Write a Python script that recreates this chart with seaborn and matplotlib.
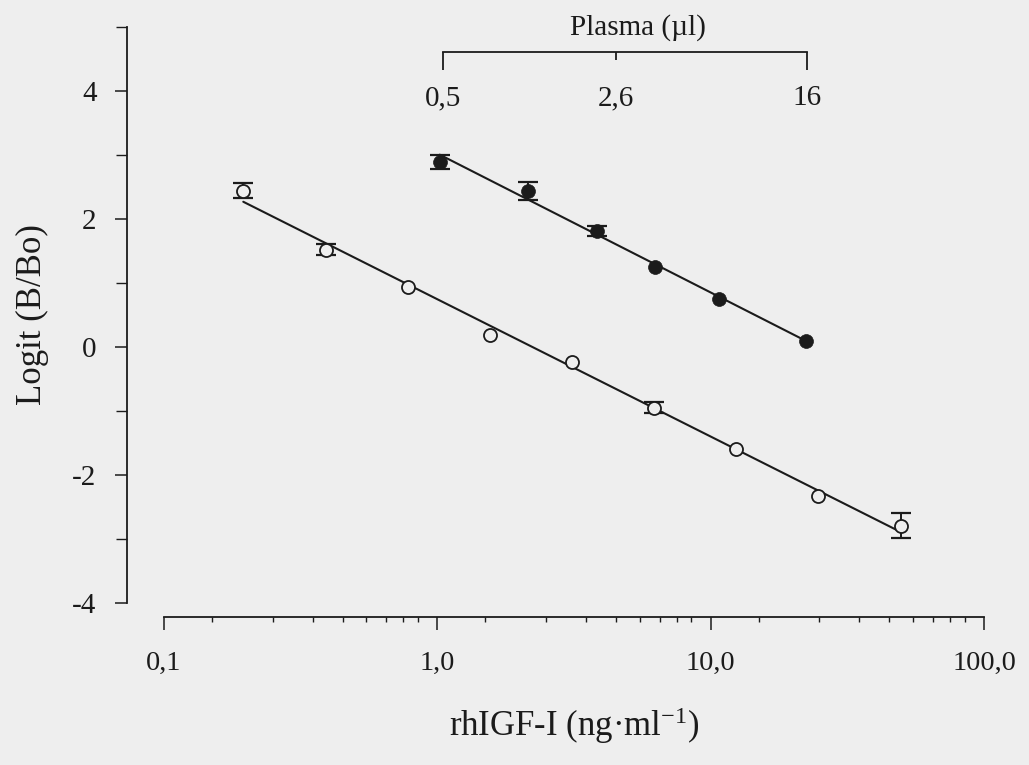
import numpy as np
import pandas as pd
import matplotlib
matplotlib.use("Agg")
import matplotlib.pyplot as plt
from matplotlib.ticker import NullFormatter
import seaborn as sns

# ---------------- data ----------------
# rhIGF-I standard curve (open circles)
std_x = [0.195, 0.39, 0.78, 1.56, 3.1, 6.2, 12.4, 24.8, 49.5]
std_y = [2.44, 1.52, 0.94, 0.18, -0.23, -0.95, -1.59, -2.33, -2.79]
std_err = [0.12, 0.09, 0.0, 0.0, 0.0, 0.09, 0.0, 0.0, 0.19]

# plasma dilutions (filled circles)
pl_x = [1.02, 2.15, 3.84, 6.25, 10.7, 22.4]
pl_y = [2.89, 2.44, 1.81, 1.25, 0.74, 0.09]
pl_err = [0.11, 0.14, 0.08, 0.0, 0.0, 0.0]

# axis ticks / labels
x_ticks = [0.1, 1.0, 10.0, 100.0]
x_ticklabels = ["0,1", "1,0", "10,0", "100,0"]
x_minor_mult = [1.5, 2.5, 3.5, 4.5, 5.5, 6.5, 7.5, 8.5]
y_ticks = [-4, -2, 0, 2, 4]
y_ticklabels = ["-4", "-2", "0", "2", "4"]
y_minor = [-3, -1, 1, 3, 5]

plasma_ends = [0.5, 16]
plasma_end_labels = ["0,5", "16"]
plasma_mid = [2.6]
plasma_mid_labels = ["2,6"]

# ---------------- style ----------------
INK = "#1b1b1b"
BG = "#eeeeee"
sns.set_style("ticks")
plt.rcParams["font.family"] = ["Liberation Serif", "DejaVu Serif"]
plt.rcParams["mathtext.default"] = "regular"
plt.rcParams["axes.unicode_minus"] = False
plt.rcParams["text.color"] = INK
plt.rcParams["axes.labelcolor"] = INK
plt.rcParams["xtick.color"] = INK
plt.rcParams["ytick.color"] = INK
plt.rcParams["axes.edgecolor"] = INK

fig = plt.figure(figsize=(10.29, 7.65), dpi=100, facecolor=BG)
ax = fig.add_axes([0.15938, 0.21176, 0.79689, 0.75334])
ax.set_facecolor("none")
ax.set_xscale("log")
ax.set_xlim(0.1, 100)
ax.set_ylim(-4, 5)

# regression lines
df_std = pd.DataFrame({"x": std_x, "y": std_y})
df_pl = pd.DataFrame({"x": pl_x, "y": pl_y})
for d in (df_std, df_pl):
    sns.regplot(data=d, x="x", y="y", logx=True, ci=None, scatter=False, ax=ax,
                line_kws=dict(color=INK, lw=1.5, zorder=2))

# error bars (only where an error bar is visible)
for xs, ys, es in ((std_x, std_y, std_err), (pl_x, pl_y, pl_err)):
    xs, ys, es = np.asarray(xs), np.asarray(ys), np.asarray(es)
    m = es > 0
    ax.errorbar(xs[m], ys[m], yerr=es[m], fmt="none", ecolor=INK, elinewidth=1.4,
                capsize=7.2, capthick=1.6, zorder=3)

# markers
sns.scatterplot(x=std_x, y=std_y, ax=ax, marker="o", s=88, facecolor=BG,
                edgecolor=INK, linewidth=1.3, zorder=4)
sns.scatterplot(x=pl_x, y=pl_y, ax=ax, marker="o", s=100, color=INK,
                edgecolor=INK, linewidth=0.5, zorder=4)

# spines
sns.despine(ax=ax)
ax.spines["left"].set_position(("outward", 26.6))
ax.spines["bottom"].set_position(("outward", 10))
ax.spines["left"].set_linewidth(1.3)
ax.spines["bottom"].set_linewidth(1.3)

ax.set_xticks(x_ticks, x_ticklabels)
ax.set_xticks([m * d for d in (0.1, 1.0, 10.0) for m in x_minor_mult], minor=True)
ax.xaxis.set_minor_formatter(NullFormatter())
ax.set_yticks(y_ticks, y_ticklabels)
ax.set_yticks(y_minor, minor=True)
ax.yaxis.set_minor_formatter(NullFormatter())
ax.tick_params(axis="x", which="major", length=9.4, width=1.1, pad=15, labelsize=20.5)
ax.tick_params(axis="x", which="minor", length=3.6, width=1.0)
ax.tick_params(axis="y", which="major", length=9, width=1.1, pad=13, labelsize=21)
ax.tick_params(axis="y", which="minor", length=8, width=1.0)

ax.set_xlabel("rhIGF-I (ng·ml$^{-1}$)", fontsize=25, labelpad=21)
ax.set_ylabel("Logit (B/Bo)", fontsize=25, labelpad=17)

# ---------------- plasma bracket axis ----------------
axp = fig.add_axes([0.43051, 0.93203, 0.35374, 0.0005])
axp.set_facecolor("none")
axp.set_xscale("log")
axp.set_xlim(plasma_ends[0], plasma_ends[1])
for s in ("top", "left", "right"):
    axp.spines[s].set_visible(False)
axp.spines["bottom"].set_linewidth(1.3)
axp.set_yticks([])
axp.set_xticks(plasma_ends, plasma_end_labels)
axp.set_xticks(plasma_mid, plasma_mid_labels, minor=True)
axp.tick_params(axis="x", which="major", length=13, width=1.3, pad=11, labelsize=21)
axp.tick_params(axis="x", which="minor", length=5.8, width=1.3, pad=18.2, labelsize=21)
axp.set_title("Plasma (µl)", fontsize=21, pad=12, x=0.535)

fig.savefig("out.png", dpi=100, facecolor=BG)
